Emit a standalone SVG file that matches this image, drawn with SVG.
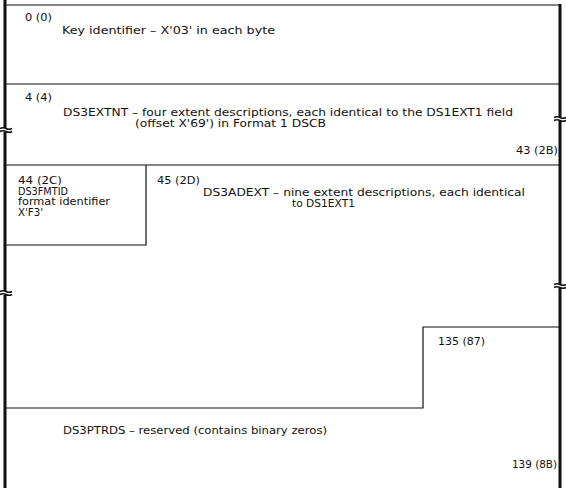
<svg xmlns="http://www.w3.org/2000/svg" width="566" height="488" viewBox="0 0 566 488">
<style>
text{font-family:"DejaVu Sans","Liberation Sans",Arial,sans-serif;font-size:10.5px;fill:#111}
.thin{stroke:#111;stroke-width:1.2;fill:none}
.thick{stroke:#111;stroke-width:3;fill:none}
.brk{stroke:#111;stroke-width:1.6;fill:none}
.wipe{fill:#fff}
</style>
<rect width="566" height="488" fill="#fff"/>
<g id="connectors">
<line class="thin" x1="5" y1="5" x2="560" y2="5"/>
<line class="thin" x1="5" y1="84" x2="560" y2="84"/>
<line class="thin" x1="5" y1="165" x2="560" y2="165"/>
<line class="thick" x1="5" y1="0" x2="5" y2="488"/>
<line class="thick" x1="560" y1="4" x2="560" y2="488"/>
<rect class="wipe" x="1" y="128" width="10" height="4"/>
<path class="brk" d="M0 128.5 q3 -1.5 6 0 t6 0 M0 131.5 q3 -1.5 6 0 t6 0"/>
<rect class="wipe" x="1" y="291" width="10" height="4"/>
<path class="brk" d="M0 291.5 q3 -1.5 6 0 t6 0 M0 294.5 q3 -1.5 6 0 t6 0"/>
<rect class="wipe" x="555" y="117" width="10" height="4"/>
<path class="brk" d="M554 117.5 q3 -1.5 6 0 t6 0 M554 120.5 q3 -1.5 6 0 t6 0"/>
<rect class="wipe" x="555" y="284" width="10" height="4"/>
<path class="brk" d="M554 284.5 q3 -1.5 6 0 t6 0 M554 287.5 q3 -1.5 6 0 t6 0"/>
</g>
<g id="key">
<text x="25" y="21" textLength="27" lengthAdjust="spacingAndGlyphs">0 (0)</text>
<text x="62" y="34" textLength="213" lengthAdjust="spacingAndGlyphs">Key identifier – X'03' in each byte</text>
</g>
<g id="ds3extnt">
<text x="25" y="101" textLength="27" lengthAdjust="spacingAndGlyphs">4 (4)</text>
<text x="63" y="116" textLength="450" lengthAdjust="spacingAndGlyphs">DS3EXTNT – four extent descriptions, each identical to the DS1EXT1 field</text>
<text x="135" y="127" textLength="191" lengthAdjust="spacingAndGlyphs">(offset X'69') in Format 1 DSCB</text>
<text x="516" y="154" textLength="42" lengthAdjust="spacingAndGlyphs">43 (2B)</text>
</g>
<g id="ds3fmtid">
<path class="thin" d="M5 245 H146 V165"/>
<text x="18" y="184" textLength="44" lengthAdjust="spacingAndGlyphs">44 (2C)</text>
<text x="18" y="194.5" textLength="50" lengthAdjust="spacingAndGlyphs">DS3FMTID</text>
<text x="18" y="205" textLength="92" lengthAdjust="spacingAndGlyphs">format identifier</text>
<text x="18" y="215.5" textLength="25" lengthAdjust="spacingAndGlyphs">X'F3'</text>
</g>
<g id="ds3adext">
<text x="157" y="184" textLength="43" lengthAdjust="spacingAndGlyphs">45 (2D)</text>
<text x="203" y="196" textLength="322" lengthAdjust="spacingAndGlyphs">DS3ADEXT – nine extent descriptions, each identical</text>
<text x="292" y="207" textLength="63" lengthAdjust="spacingAndGlyphs">to DS1EXT1</text>
<path class="thin" d="M560 327 H423 V408 H5"/>
<text x="438" y="345" textLength="47" lengthAdjust="spacingAndGlyphs">135 (87)</text>
</g>
<g id="ds3ptrds">
<text x="63" y="434" textLength="264" lengthAdjust="spacingAndGlyphs">DS3PTRDS – reserved (contains binary zeros)</text>
<text x="512" y="468" textLength="45" lengthAdjust="spacingAndGlyphs">139 (8B)</text>
</g>
</svg>
